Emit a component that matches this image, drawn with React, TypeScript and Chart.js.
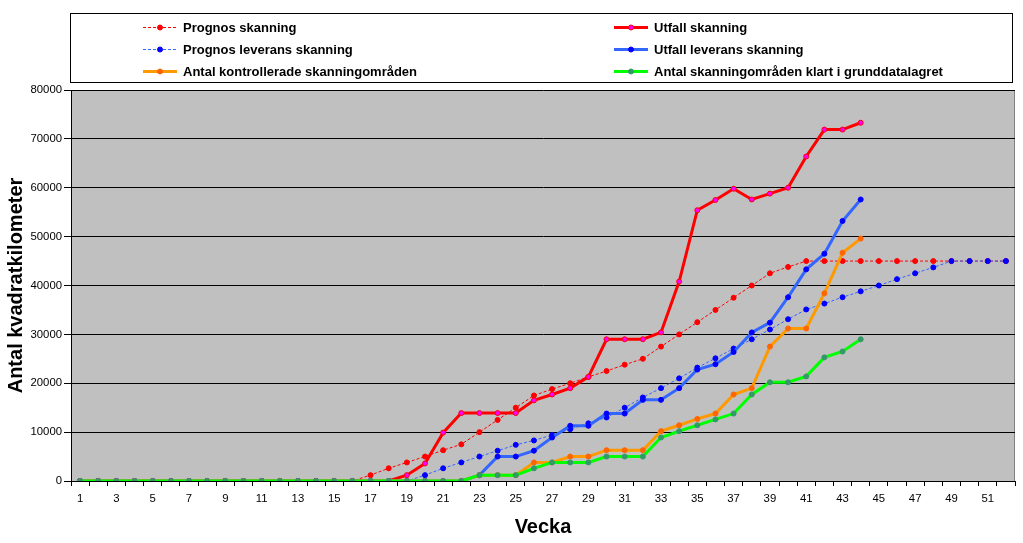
import React, { useEffect, useRef } from 'react';
import { Chart, registerables } from 'chart.js';

Chart.register(...registerables);

const weeks = ['1','2','3','4','5','6','7','8','9','10','11','12','13','14','15','16','17','18','19','20','21','22','23','24','25','26','27','28','29','30','31','32','33','34','35','36','37','38','39','40','41','42','43','44','45','46','47','48','49','50','51','52'];

const prognosSkanning = [0,0,0,0,0,0,0,0,0,0,0,0,0,0,0,0,1200,2600,3800,5000,6300,7500,10000,12500,15000,17500,18800,20000,21300,22500,23800,25000,27500,30000,32500,35000,37500,40000,42500,43800,45000,45000,45000,45000,45000,45000,45000,45000,45000,45000,45000,45000];

const utfallSkanning = [0,0,0,0,0,0,0,0,0,0,0,0,0,0,0,0,0,0,1200,3600,9900,13900,13900,13900,13900,16500,17700,19000,21300,29000,29000,29000,30400,40800,55400,57500,59800,57600,58800,60000,66400,71900,71900,73300,null,null,null,null,null,null,null,null];

const prognosLeverans = [0,0,0,0,0,0,0,0,0,0,0,0,0,0,0,0,0,0,0,1200,2600,3800,5000,6200,7400,8300,9400,10600,11800,13000,15000,17100,19000,21000,23200,25100,27100,29000,31000,33100,35100,36300,37600,38800,40000,41300,42500,43700,45000,45000,45000,45000];

const utfallLeverans = [0,0,0,0,0,0,0,0,0,0,0,0,0,0,0,0,0,0,0,0,0,0,1200,5000,5000,6200,8900,11300,11300,13800,13800,16600,16600,19000,22800,23900,26400,30400,32400,37600,43300,46500,53200,57600,null,null,null,null,null,null,null,null];

const kontrollerade = [0,0,0,0,0,0,0,0,0,0,0,0,0,0,0,0,0,0,0,0,0,0,1200,1200,1200,3800,3800,5000,5000,6300,6300,6300,10200,11400,12700,13800,17700,19000,27500,31200,31200,38400,46700,49600,null,null,null,null,null,null,null,null];

const klartGrunddata = [0,0,0,0,0,0,0,0,0,0,0,0,0,0,0,0,0,0,0,0,0,0,1200,1200,1200,2600,3800,3800,3800,5000,5000,5000,8900,10200,11400,12600,13800,17700,20200,20200,21400,25300,26500,29000,null,null,null,null,null,null,null,null];

const seriesNames = [
  'Prognos skanning',
  'Utfall skanning',
  'Prognos leverans skanning',
  'Utfall leverans skanning',
  'Antal kontrollerade skanningområden',
  'Antal skanningområden klart i grunddatalagret',
];

const yTicks = [0, 10000, 20000, 30000, 40000, 50000, 60000, 70000, 80000];

const FONT = "'Liberation Sans', Arial, sans-serif";

const bgPlugin = {
  id: 'plotBg',
  beforeDraw(chart: any) {
    const { ctx, chartArea } = chart;
    ctx.save();
    ctx.fillStyle = '#ffffff';
    ctx.fillRect(0, 0, chart.width, chart.height);
    ctx.fillStyle = '#C0C0C0';
    ctx.fillRect(chartArea.left, chartArea.top, chartArea.right - chartArea.left, chartArea.bottom - chartArea.top);
    ctx.strokeStyle = '#808080';
    ctx.lineWidth = 1;
    ctx.beginPath();
    ctx.moveTo(Math.round(chartArea.right) - 0.5, chartArea.top);
    ctx.lineTo(Math.round(chartArea.right) - 0.5, chartArea.bottom);
    ctx.stroke();
    ctx.restore();
  },
};

const legendPlugin = {
  id: 'boxLegend',
  afterDraw(chart: any) {
    const ctx = chart.ctx;
    ctx.save();
    ctx.strokeStyle = '#000';
    ctx.lineWidth = 1;
    ctx.strokeRect(70.5, 13.5, 942, 69);
    chart.data.datasets.forEach((ds: any, i: number) => {
      const col = i % 2;
      const row = Math.floor(i / 2);
      const x0 = col === 0 ? 143 : 614;
      const y = 27 + row * 22;
      ctx.save();
      ctx.strokeStyle = ds.borderColor;
      ctx.lineWidth = ds.borderWidth;
      ctx.setLineDash(ds.borderDash || []);
      ctx.beginPath();
      ctx.moveTo(x0, y + 0.5);
      ctx.lineTo(x0 + 34, y + 0.5);
      ctx.stroke();
      ctx.setLineDash([]);
      ctx.fillStyle = ds.pointBackgroundColor;
      ctx.strokeStyle = ds.pointBorderColor;
      ctx.lineWidth = 1;
      ctx.beginPath();
      ctx.arc(x0 + 17, y + 0.5, 2.5, 0, Math.PI * 2);
      ctx.fill();
      ctx.stroke();
      ctx.restore();
      ctx.fillStyle = '#000';
      ctx.font = `bold 13px ${FONT}`;
      ctx.textBaseline = 'middle';
      ctx.textAlign = 'left';
      ctx.fillText(ds.label, x0 + 40, y + 1);
    });
    ctx.restore();
  },
};

export default function App() {
  const ref = useRef<HTMLCanvasElement | null>(null);
  useEffect(() => {
    if (!ref.current) return;
    const mk = (
      label: string,
      data: (number | null)[],
      line: string,
      width: number,
      dash: number[],
      ptFill: string,
      ptBorder: string,
      order: number
    ) => ({
      label,
      data,
      borderColor: line,
      backgroundColor: line,
      borderWidth: width,
      borderDash: dash,
      pointBackgroundColor: ptFill,
      pointBorderColor: ptBorder,
      pointBorderWidth: 1,
      pointRadius: 2.5,
      pointHoverRadius: 2.5,
      tension: 0,
      fill: false,
      spanGaps: false,
      order,
    });
    const chart = new Chart(ref.current, {
      type: 'line',
      data: {
        labels: weeks,
        datasets: [
          mk(seriesNames[0], prognosSkanning, '#FF0000', 1, [3, 2], '#FF0000', '#FF0000', 5),
          mk(seriesNames[1], utfallSkanning, '#FF0000', 3, [], '#FF00FF', '#FF0000', 4),
          mk(seriesNames[2], prognosLeverans, '#3366FF', 1, [3, 2], '#0000FF', '#0000FF', 3),
          mk(seriesNames[3], utfallLeverans, '#3366FF', 3, [], '#0000FF', '#0000FF', 2),
          mk(seriesNames[4], kontrollerade, '#FF9900', 3, [], '#FF6600', '#FF6600', 1),
          mk(seriesNames[5], klartGrunddata, '#00FF00', 3, [], '#339966', '#339966', 0),
        ] as any,
      },
      options: {
        responsive: false,
        animation: false,
        devicePixelRatio: 1,
        layout: { padding: { top: 90, right: 8, left: 0, bottom: 0 } },
        plugins: {
          legend: { display: false },
          tooltip: { enabled: false },
        },
        scales: {
          x: {
            type: 'category',
            offset: true,
            afterFit: (s: any) => { s.height = 62; },
            grid: {
              display: true,
              offset: true,
              drawOnChartArea: false,
              drawTicks: true,
              tickLength: 5,
              color: '#000',
            },
            border: { display: true, color: '#000', width: 1 },
            ticks: {
              autoSkip: false,
              maxRotation: 0,
              minRotation: 0,
              padding: 6,
              color: '#000',
              font: { family: FONT, size: 11.33 },
              callback: (_v: any, i: number) => (i % 2 === 0 ? weeks[i] : ''),
            },
            title: {
              display: true,
              text: 'Vecka',
              color: '#000',
              font: { family: FONT, size: 20, weight: 'bold' },
              padding: { top: 0, bottom: 4 },
            },
          },
          y: {
            min: 0,
            max: 80000,
            afterFit: (s: any) => { s.width = 71; },
            afterBuildTicks: (s: any) => { s.ticks = yTicks.map((v) => ({ value: v })); },
            grid: {
              color: '#000',
              lineWidth: 1,
              drawTicks: true,
              tickLength: 7,
            },
            border: { display: true, color: '#000', width: 1 },
            ticks: {
              padding: 2,
              color: '#000',
              font: { family: FONT, size: 11.33 },
              callback: (v: any) => String(v),
            },
            title: {
              display: true,
              text: 'Antal kvadratkilometer',
              color: '#000',
              font: { family: FONT, size: 20, weight: 'bold' },
              padding: { top: 4, bottom: 0 },
            },
          },
        },
      } as any,
      plugins: [bgPlugin, legendPlugin],
    });
    return () => chart.destroy();
  }, []);
  return (
    <div style={{ position: 'absolute', left: 0, top: 0, width: 1023, height: 543 }}>
      <canvas ref={ref} width={1023} height={543} style={{ display: 'block', width: 1023, height: 543 }} />
    </div>
  );
}
